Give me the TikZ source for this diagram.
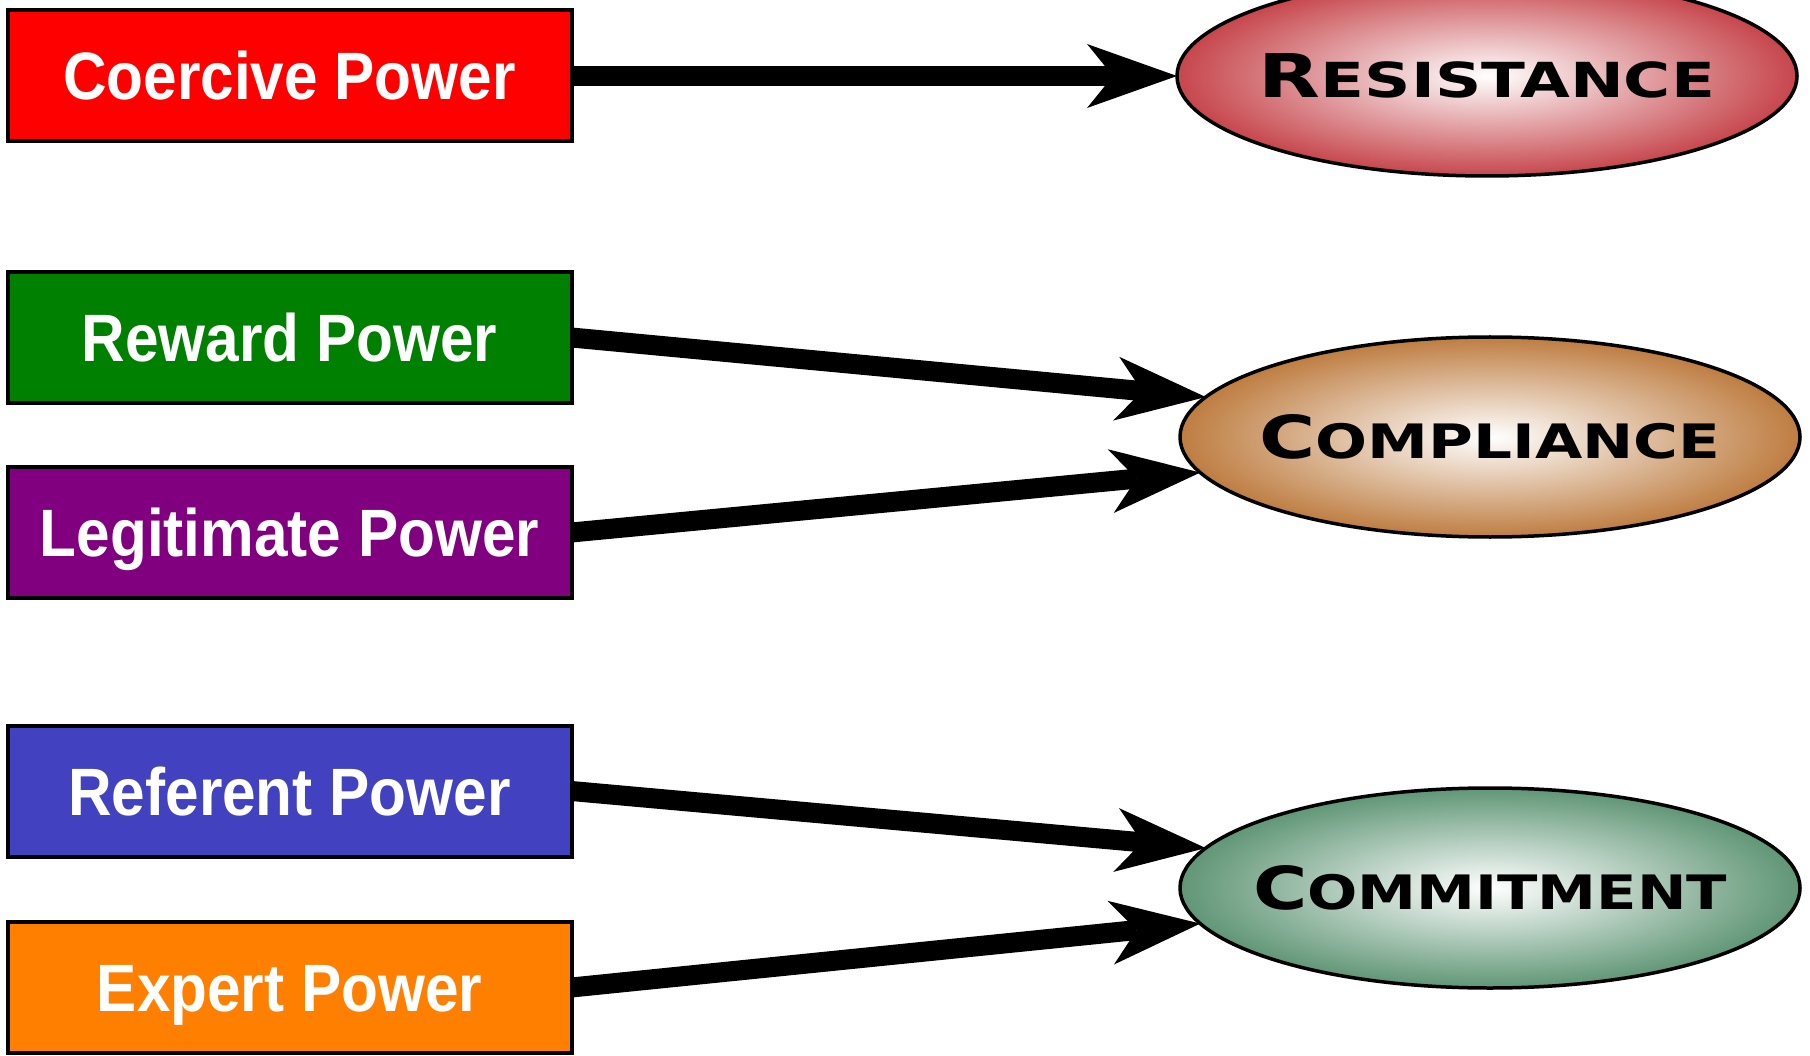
\documentclass[tikz,border=0pt]{standalone}
\usepackage{fontspec}
\usepackage{graphicx}
\usetikzlibrary{arrows.meta,shapes.geometric}
\newfontfamily\boxfont[FakeStretch=0.9]{Liberation Sans}
\newfontfamily\ellfont{DejaVu Sans}
\definecolor{resC}{RGB}{198,70,76}
\definecolor{compC}{RGB}{190,125,65}
\definecolor{commC}{RGB}{96,150,118}
\definecolor{refC}{RGB}{66,66,192}
\newcommand\ovallabel[3]{\resizebox{#3}{44pt}{\ellfont\bfseries\fontsize{40}{40}\selectfont #1\fontsize{32}{32}\selectfont #2}}
\tikzset{
  pbox/.style={draw=black, line width=4pt, minimum width=564pt, minimum height=131pt,
    inner sep=0pt, outer sep=0pt, text=white,
    font=\boxfont\bfseries\fontsize{67}{67}\selectfont, text height=48pt, text depth=0pt},
  oval/.style={ellipse, draw=black, line width=3.5pt, minimum width=620pt, minimum height=200pt,
    inner sep=0pt, outer sep=0pt, shade, inner color=white},
  ovaltext/.style={inner sep=0pt, outer sep=0pt, text=black},
  arr/.style={line width=20pt, -{Stealth[length=90pt, width=64pt, inset=26pt, line width=0pt]}}
}
\begin{document}
\begin{tikzpicture}[x=1pt,y=-1pt]
\useasboundingbox (0,0) rectangle (1810,1056);
% power boxes
\node[pbox, fill=red] (coe) at (289.5,76) {Coercive Power};
\node[pbox, fill={rgb,255:red,0;green,128;blue,0}] (rew) at (289.5,337.5) {Reward Power};
\node[pbox, fill={rgb,255:red,128;green,0;blue,128}] (leg) at (289.5,532.5) {Legitimate Power};
\node[pbox, fill=refC] (ref) at (289.5,791) {Referent Power};
\node[pbox, fill={rgb,255:red,255;green,128;blue,0}] (exp) at (289.5,987.5) {Expert Power};
% outcome ellipses
\node[oval, outer color=resC] (res) at (1487,76) {};
\node[oval, outer color=compC] (comp) at (1490,437) {};
\node[oval, outer color=commC] (comm) at (1490,888) {};
\node[ovaltext] (resl) at (res.center) {\ovallabel{R}{ESISTANCE}{456pt}};
\node[ovaltext] (compl) at (comp.center) {\ovallabel{C}{OMPLIANCE}{461pt}};
\node[ovaltext] (comml) at (comm.center) {\ovallabel{C}{OMMITMENT}{474pt}};
% arrows
\draw[arr] (coe.east) -- (res.west);
\draw[arr] (rew.east) -- (comp.172);
\draw[arr] (leg.east) -- (comp.187);
\draw[arr] (ref.east) -- (comm.172);
\draw[arr] (exp.east) -- (comm.187);
\end{tikzpicture}
\end{document}
